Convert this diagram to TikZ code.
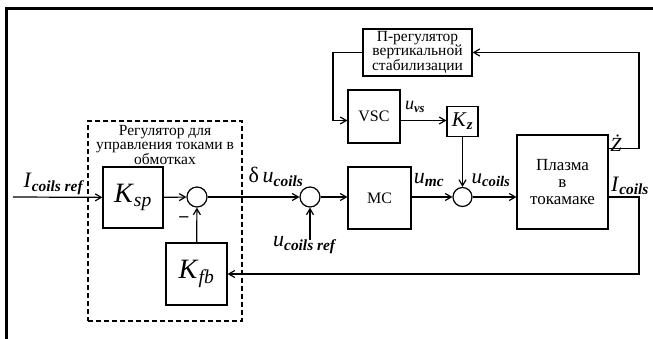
\documentclass[tikz,border=0pt]{standalone}
\usepackage{amsmath}
\usepackage{fontspec}
\setmainfont{Liberation Serif}
\usetikzlibrary{arrows.meta}

% variable with a plain or a bold subscript
\newcommand{\vsub}[2]{\textit{#1}$_{\textit{#2}}$}
\newcommand{\vbsub}[2]{\textit{#1}$_{\textbf{\textit{#2}}}$}

\tikzset{
  block/.style={rectangle, draw, line width=1.2pt, inner sep=0pt, align=center},
  summer/.style={circle, draw, line width=1.2pt, minimum size=20pt, inner sep=0pt},
  signal/.style={line width=1.2pt, -{Straight Barb[length=6pt,width=7pt]}},
  title/.style={align=center, font=\fontsize{15.5}{14.8}\selectfont},
}

\begin{document}
\begin{tikzpicture}[x=1pt, y=-1pt]
    \useasboundingbox (0,0) rectangle (653,339);
    \draw[line width=3pt] (6,339) -- (6,8.5) -- (653,8.5);

    % current controller
    \node[block, dashed, dash pattern=on 5pt off 3pt, minimum width=154pt, minimum height=200pt] (regbox) at (165,221) {};
    \node[title] (regtitle) at (165,145) {Регулятор для\\управления токами в\\обмотках};
    \node[block, minimum width=60pt, minimum height=61pt] (ksp) at (133,197.5) {\fontsize{28}{28}\selectfont\vsub{K}{sp}};
    \node[summer] (sum1) at (197,197) {};
    \node[block, minimum width=61pt, minimum height=62pt] (kfb) at (196.5,274) {\fontsize{28}{28}\selectfont\vsub{K}{fb}};

    % actuators and plant
    \node[summer] (sum2) at (310,197) {};
    \node[block, minimum width=63pt, minimum height=62pt, font=\fontsize{16}{16}\selectfont] (mc) at (379.5,198) {MC};
    \node[summer, minimum size=19pt] (sum3) at (462.5,197) {};
    \node[block, minimum width=91pt, minimum height=94pt, font=\fontsize{17}{17}\selectfont] (plasma) at (562.5,182) {Плазма\\в\\токамаке};

    % vertical stabilisation
    \node[block, minimum width=109pt, minimum height=47pt, font=\fontsize{15.5}{14}\selectfont] (preg) at (417.5,52.5) {П-регулятор\\вертикальной\\стабилизации};
    \node[block, minimum width=52pt, minimum height=53pt, font=\fontsize{16}{16}\selectfont] (vsc) at (374,116.5) {VSC};
    \node[block, minimum width=31pt, minimum height=30pt] (kz) at (462.5,121.5) {\fontsize{21}{21}\selectfont\vbsub{K}{z}};

    \coordinate (in) at (13,197);
    \coordinate (uref) at (310,240);
    \coordinate (fbr) at (639,274);
    \coordinate (ztop) at (639,52.5);
    \coordinate (vl) at (333,120.5);

    \draw[signal] (in) -- (ksp);
    \draw[signal] (ksp) -- (sum1);
    \draw[signal] (kfb) -- (sum1);
    \draw[signal] (sum1) -- (sum2);
    \draw[signal] (uref) -- (sum2);
    \draw[signal] (sum2) -- (mc.west |- sum2);
    \draw[signal] (mc.east |- sum3) -- (sum3);
    \draw[signal] (sum3) -- (sum3 -| plasma.west);
    \draw[signal] (plasma.east |- sum3) -| (fbr) -- (kfb);
    \draw[signal] ([yshift=-14pt]plasma.north east) -| (ztop) -- (preg);
    \draw[signal] (preg) -| (vl) -- (vsc.west |- vl);
    \draw[signal] (vsc.east |- vl) -- (kz.west |- vl);
    \draw[signal] (kz) -- (sum3);

    % signal labels
    \node (lin) at (54,184) {\fontsize{22}{22}\selectfont\vbsub{I}{coils ref}};
    \node (ldu) at (276,177) {\fontsize{22}{22}\selectfont δ\,\vbsub{u}{coils}};
    \node (luref) at (305,245) {\fontsize{22}{22}\selectfont\vbsub{u}{coils ref}};
    \node (lumc) at (429,180) {\fontsize{22}{22}\selectfont\vbsub{u}{mc}};
    \node (lucoils) at (491,180) {\fontsize{21}{21}\selectfont\vbsub{u}{coils}};
    \node (licoils) at (630,186) {\fontsize{22}{22}\selectfont\vbsub{I}{coils}};
    \node (lz) at (616,143) {\fontsize{20}{20}\selectfont\textit{Ż}};
    \node (luvs) at (415,107) {\fontsize{18}{18}\selectfont\vbsub{u}{vs}};
    \node (lminus) at (184,219) {\fontsize{18}{18}\selectfont\textbf{–}};
\end{tikzpicture}
\end{document}
